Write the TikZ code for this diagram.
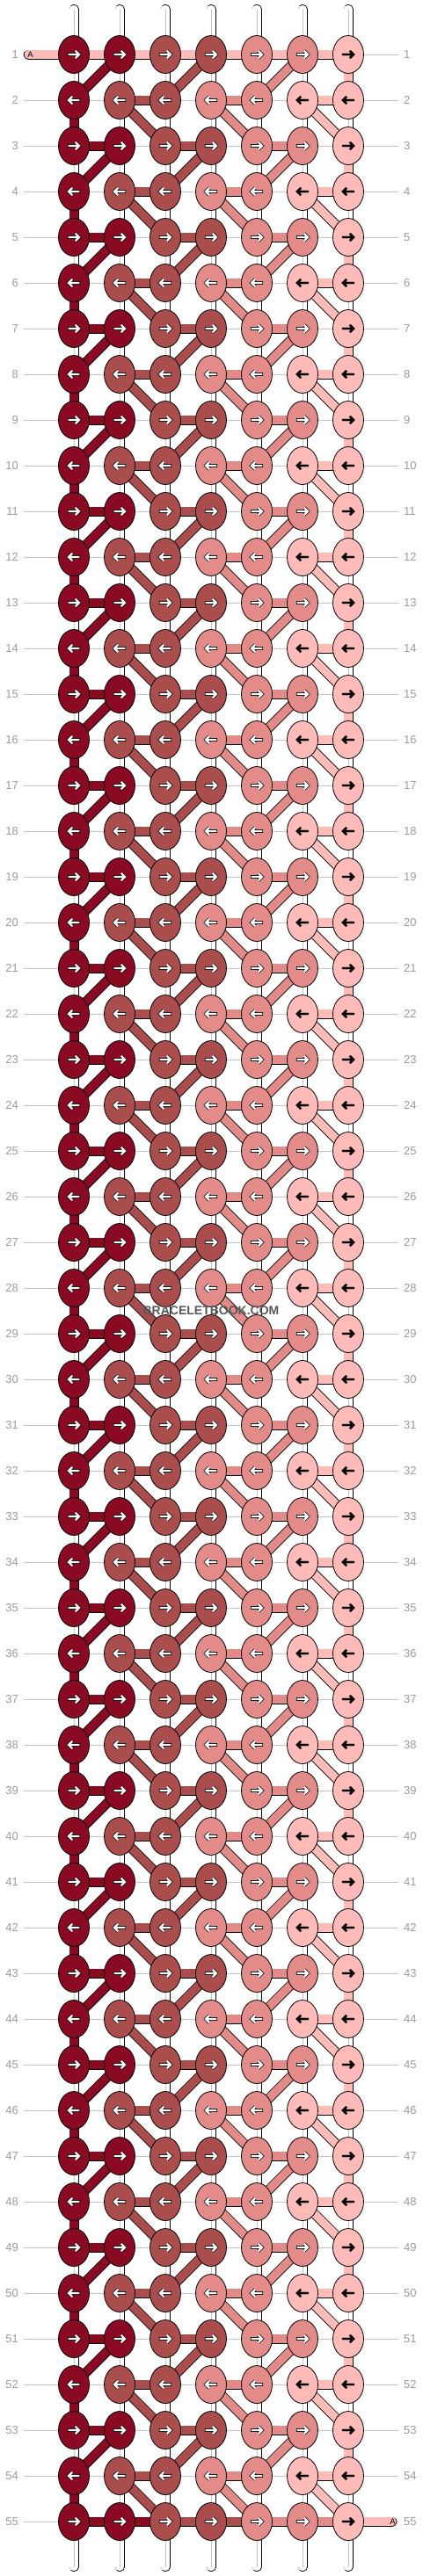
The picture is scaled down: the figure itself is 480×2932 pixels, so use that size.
\documentclass[tikz,border=0pt]{standalone}
\usepackage{fontspec}
\setmainfont{Liberation Sans}
\usetikzlibrary{shapes.geometric}
\pgfdeclarelayer{threads}
\pgfsetlayers{threads,main}

\definecolor{wine}{HTML}{8A0A24}
\definecolor{brick}{HTML}{AA4D4D}
\definecolor{salmon}{HTML}{E38B89}
\definecolor{blush}{HTML}{FFBBB8}
\definecolor{guide}{HTML}{C4C4C4}
\definecolor{rownum}{HTML}{9A9A9A}

\begin{document}
\begin{tikzpicture}[
		x=1pt, y=-1pt
		,knot/.style={draw, ellipse, line width=.8pt, minimum width=35pt, minimum height=43pt, inner sep=0pt}
		,thread/.style={line width=.8pt, double=#1, double distance=9.4pt}
		,pass/.style={thread=white}
		,seam/.style={guide, line width=.9pt}
		,rownr/.style={rownum, inner sep=0pt, font=\fontsize{13}{13}\selectfont}
		,tag/.style={inner sep=0pt, font=\fontsize{9.5}{10}\selectfont}
	]
	\useasboundingbox (0,0) rectangle (480,2932);

	\foreach \r in {1,...,55}{
		\pgfmathtruncatemacro\yy{62+52*(\r-1)}
		\ifodd\r
			\def\cols{wine/white/3.6,wine/white/3.6,brick/white/3.6,brick/white/3.6,salmon/white/3.6,salmon/white/3.6,blush/black/2.2}\def\dir{1}
		\else
			\def\cols{wine/white/3.6,brick/white/3.6,brick/white/3.6,salmon/white/3.6,salmon/white/3.6,blush/black/2.2,blush/black/2.2}\def\dir{-1}
		\fi
		\node[rownr, anchor=east] (l\r) at (21,\yy) {\r};
		\node[rownr, anchor=west] (r\r) at (459,\yy) {\r};
		\foreach \col/\ac/\ow [count=\c] in \cols{
			\node[knot, fill=\col] (k-\r-\c) at ({84+52*(\c-1)},\yy) {};
			\begin{scope}[shift={(k-\r-\c.center)}, xscale=\dir]
				\draw[line width=\ow pt, line join=miter] (-7.1,0) -- (5,0) (1.8,-4.2) -- (6,0) -- (1.8,4.2);
				\draw[\ac, line width=2.2pt, line join=miter] (-6.4,0) -- (5,0) (1.8,-4.2) -- (6,0) -- (1.8,4.2);
			\end{scope}
		}
	}

	\coordinate (tailL) at (32.2,62);
	\coordinate (tailR) at (446,2870);
	\node[tag] (tagL) at (34.5,62) {A};
	\node[tag] (tagR) at (446.5,2870) {A};

	\begin{pgfonlayer}{threads}
		\foreach \r in {1,...,55}
			\draw[seam, shorten <=6pt, shorten >=6pt] (l\r.east) -- (r\r.west);

		\foreach \c in {1,...,7}{
			\coordinate (top\c) at ({84+52*(\c-1)},10.5);
			\coordinate (end\c) at ({84+52*(\c-1)},2921.5);
			\draw[pass, line cap=round] (top\c) -- (k-1-\c.center);
			\draw[pass, line cap=round] (k-55-\c.center) -- (end\c);
			\draw[seam] (top\c) -- (k-1-\c.center) (k-55-\c.center) -- (end\c);
		}

		\foreach \r [evaluate=\r as \n using int(\r+1)] in {1,...,54}{
			\ifodd\r
				\foreach \c in {1,...,6}{
					\draw[pass] (k-\r-\c.center) -- (k-\n-\c.center);
					\draw[seam] (k-\r-\c.center) -- (k-\n-\c.center);
				}
				\draw[thread=blush] (k-\r-7.center) -- (k-\n-7.center);
				\draw[thread=wine] (k-\r-2.center) -- (k-\n-1.center);
				\draw[thread=brick] (k-\r-4.center) -- (k-\n-3.center);
				\draw[thread=salmon] (k-\r-6.center) -- (k-\n-5.center);
			\else
				\foreach \c in {2,...,7}{
					\draw[pass] (k-\r-\c.center) -- (k-\n-\c.center);
					\draw[seam] (k-\r-\c.center) -- (k-\n-\c.center);
				}
				\draw[thread=wine] (k-\r-1.center) -- (k-\n-1.center);
				\draw[thread=brick] (k-\r-2.center) -- (k-\n-3.center);
				\draw[thread=salmon] (k-\r-4.center) -- (k-\n-5.center);
				\draw[thread=blush] (k-\r-6.center) -- (k-\n-7.center);
			\fi
		}

		\draw[thread=blush, line cap=round] (tailL) -- (k-1-1.center);
		\foreach \c [evaluate=\c as \d using int(\c+1)] in {1,...,6}
			\draw[thread=blush] (k-1-\c.center) -- (k-1-\d.center);
		\foreach \r in {3,5,...,53}
			\foreach \c/\d/\col in {1/2/wine,3/4/brick,5/6/salmon}
				\draw[thread=\col] (k-\r-\c.center) -- (k-\r-\d.center);
		\foreach \r in {2,4,...,54}
			\foreach \c/\d/\col in {2/3/brick,4/5/salmon,6/7/blush}
				\draw[thread=\col] (k-\r-\c.center) -- (k-\r-\d.center);
		\foreach \c/\d/\col in {1/2/wine,2/3/wine,3/4/brick,4/5/brick,5/6/salmon,6/7/salmon}
			\draw[thread=\col] (k-55-\c.center) -- (k-55-\d.center);
		\draw[thread=blush, line cap=round] (k-55-7.center) -- (tailR);
	\end{pgfonlayer}

	\node[font=\fontsize{14}{14}\selectfont\bfseries, text=black!65] (mark) at (240,1492) {BRACELETBOOK.COM};
\end{tikzpicture}
\end{document}
